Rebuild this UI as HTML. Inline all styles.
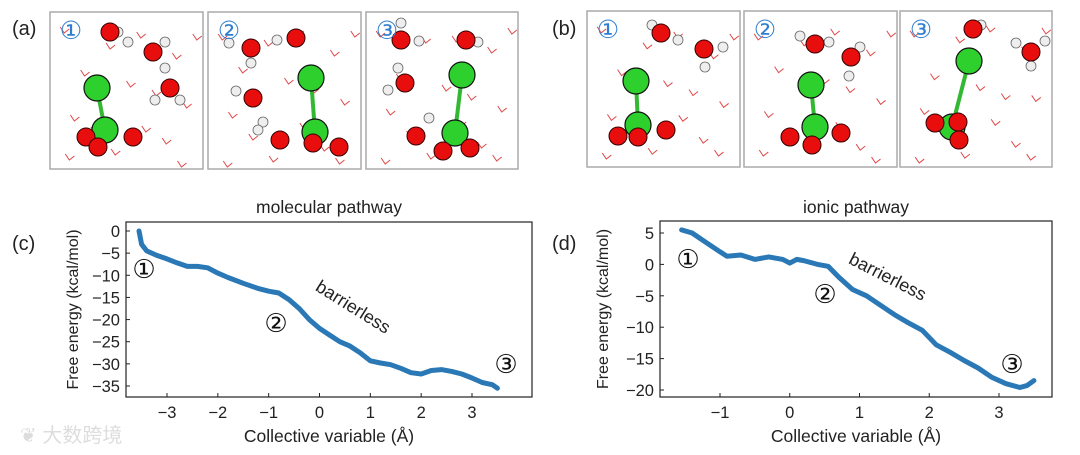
<!DOCTYPE html>
<html><head><meta charset="utf-8">
<style>
html,body{margin:0;padding:0;background:#fff;}
svg{display:block;font-family:"Liberation Sans","DejaVu Sans",sans-serif;}
</style></head>
<body>
<svg id="fig" width="1080" height="455" viewBox="0 0 1080 455" xmlns="http://www.w3.org/2000/svg">
<g id="topg"></g>
<g id="charts"></g>
<text x="20" y="442" font-size="20" fill="#ddd" font-family="'Liberation Sans','Noto Sans CJK SC',sans-serif">❦ 大数跨境</text>
</svg>
<script>
// ---- chart data ----
const molX = [-3.55,-3.5,-3.4,-3.2,-3.0,-2.8,-2.6,-2.4,-2.2,-2.0,-1.8,-1.5,-1.2,-1.0,-0.8,-0.6,-0.4,-0.2,0,0.2,0.4,0.6,0.8,1.0,1.2,1.4,1.6,1.8,2.0,2.2,2.4,2.6,2.8,3.0,3.2,3.4,3.5];
const molY = [0,-3,-4.5,-5.5,-6.3,-7.2,-8,-8,-8.3,-9.5,-10.5,-11.8,-13,-13.6,-14,-15.5,-17.5,-20,-22,-23.5,-25,-26,-27.5,-29.3,-29.8,-30.2,-31,-32,-32.3,-31.5,-31.3,-31.7,-32.3,-33.2,-34.2,-34.7,-35.5];
const molXTicks = [-3,-2,-1,0,1,2,3];
const molYTicks = [0,-5,-10,-15,-20,-25,-30,-35];
const ionX = [-1.55,-1.4,-1.2,-1.0,-0.9,-0.7,-0.5,-0.3,-0.1,0,0.1,0.2,0.4,0.55,0.7,0.9,1.1,1.3,1.5,1.7,1.9,2.1,2.3,2.5,2.7,2.9,3.1,3.3,3.4,3.5];
const ionY = [5.5,5,3.5,2,1.3,1.5,0.8,1.2,0.8,0.2,0.8,0.6,0,-0.3,-2,-4,-5,-6.5,-8,-9.3,-10.5,-12.8,-14,-15.3,-16.5,-18,-19,-19.6,-19.3,-18.5];
const ionXTicks = [-1,0,1,2,3];
const ionYTicks = [5,0,-5,-10,-15,-20];

const NS="http://www.w3.org/2000/svg";
function mk(tag,attrs,parent,text){const e=document.createElementNS(NS,tag);for(const k in attrs)e.setAttribute(k,attrs[k]);if(text!==undefined)e.textContent=text;parent.appendChild(e);return e;}
const charts=document.getElementById('charts');

function drawChart(cfg){
  const g=mk('g',{},charts);
  
  
  const sx=v=>cfg.x0px+(v-cfg.x0)*(cfg.x1px-cfg.x0px)/(cfg.x1-cfg.x0);
  const sy=v=>cfg.y0px+(v-cfg.y0)*(cfg.y1px-cfg.y0px)/(cfg.y1-cfg.y0);
  const f=cfg.frame;
  const fr=mk('rect',{x:f[0],y:f[1],width:f[2]-f[0],height:f[3]-f[1],fill:'none',stroke:'#222','stroke-width':1.2},g);
  
  
  cfg.xt.forEach(t=>{
    const X=sx(t);
    mk('line',{x1:X,x2:X,y1:f[3],y2:f[3]-4,stroke:'#222','stroke-width':1},g);
    const tl=mk('text',{x:X,y:f[3]+21,'font-size':16.5,'text-anchor':'middle',fill:'#222'},g,t<0?'\u2212'+Math.abs(t):String(t));
    
    
  });
  cfg.yt.forEach(t=>{
    const Y=sy(t);
    mk('line',{x1:f[0],x2:f[0]+4,y1:Y,y2:Y,stroke:'#222','stroke-width':1},g);
    const tl=mk('text',{x:f[0]-6,y:Y+6,'font-size':16.5,'text-anchor':'end',fill:'#222'},g,t<0?'\u2212'+Math.abs(t):String(t));
    
    
  });
  let d='';
  cfg.xs.forEach((v,i)=>{d+=(i?'L':'M')+sx(v).toFixed(1)+','+sy(cfg.ys[i]).toFixed(1);});
  const p=mk('path',{d:d,fill:'none',stroke:'#2a78b5','stroke-width':5,'stroke-linejoin':'round','stroke-linecap':'round'},g);
  
  
  const cx=(f[0]+f[2])/2;
  const tt=mk('text',{x:cx,y:213,'font-size':17.5,'text-anchor':'middle',fill:'#222'},g,cfg.title);
  
  
  const xl=mk('text',{x:cx,y:442,'font-size':17.5,'text-anchor':'middle',fill:'#222'},g,'Collective variable (Å)');
  
  
  const yl=mk('text',{x:0,y:0,'font-size':16,'text-anchor':'middle',fill:'#222',transform:`translate(${cfg.ylx},${(f[1]+f[3])/2}) rotate(-90)`},g,'Free energy (kcal/mol)');
  
  
  const pl=mk('text',{x:cfg.plx,y:250,'font-size':20,fill:'#222'},g,cfg.panel);
  
  
  cfg.marks.forEach(m=>{
    const t=mk('text',{x:m[0],y:m[1],'font-size':26,'text-anchor':'middle',fill:'#111'},g,m[2]);
    
    
  });
  const b=mk('text',{x:0,y:0,'font-size':18,'text-anchor':'middle',fill:'#222',transform:`translate(${cfg.bl[0]},${cfg.bl[1]}) rotate(${cfg.bl[2]})`},g,'barrierless');
  
  
}
drawChart({name:'molecular-pathway-chart',title:'molecular pathway',panel:'(c)',plx:12,ylx:78,
  frame:[126,222,532,397],x0:-3,x1:3,x0px:167,x1px:472,y0:0,y1:-35,y0px:231,y1px:386,
  xs:molX,ys:molY,xt:molXTicks,yt:molYTicks,
  marks:[[144,278,'①'],[276,332,'②'],[506,373,'③']],bl:[350,312,32]});
drawChart({name:'ionic-pathway-chart',title:'ionic pathway',panel:'(d)',plx:552,ylx:608,
  frame:[660,221,1052,397],x0:-1,x1:3,x0px:720,x1px:999,y0:5,y1:-20,y0px:233,y1px:390,
  xs:ionX,ys:ionY,xt:ionXTicks,yt:ionYTicks,
  marks:[[688,268,'①'],[825,303,'②'],[1012,373,'③']],bl:[885,282,27]});

// ---- snapshot panels ----
const topG=document.getElementById('topg');
const boxes=[
 {x:50,y:12,w:153,h:157,n:'①',cl:[[97,88],[105,130]],o:[[86,137],[133,137],[98,147],[110,32],[153,52],[170,88]],hy:[[118,32],[128,42],[165,42],[165,68],[155,100],[180,100]]},
 {x:208,y:12,w:153,h:157,n:'②',cl:[[311,78],[315,132]],o:[[251,48],[296,38],[253,98],[280,140],[313,143],[339,147]],hy:[[229,43],[277,40],[251,63],[236,91],[263,122],[258,130]]},
 {x:366,y:12,w:152,h:157,n:'③',cl:[[462,75],[455,133]],o:[[401,40],[405,83],[466,40],[416,136],[443,151],[470,148]],hy:[[401,23],[419,41],[398,68],[388,90],[429,118],[478,42]]},
 {x:587,y:11,w:153,h:156,n:'①',cl:[[636,81],[638,125]],o:[[618,136],[638,137],[666,130],[661,33],[704,49]],hy:[[652,25],[678,40],[723,47],[705,67]]},
 {x:744,y:11,w:153,h:156,n:'②',cl:[[811,85],[815,127]],o:[[790,137],[812,145],[841,133],[815,44],[851,57]],hy:[[800,36],[829,42],[860,47],[849,76]]},
 {x:900,y:11,w:152,h:156,n:'③',cl:[[969,61],[952,127]],o:[[973,29],[1031,52],[935,123],[959,140],[958,122]],hy:[[981,25],[1016,43],[1045,41],[1031,66]]}
];
const strokes=[[10,20],[30,60],[120,40],[90,110],[60,140],[130,90],[20,100],[110,130],[75,70],[140,20],[40,120],[100,80],[55,30],[125,145],[15,145],[85,20]];
boxes.forEach((b,i)=>{
  const g=mk('g',{},topG);
  
  
  strokes.forEach((s,j)=>{
    const x=b.x+s[0]*(b.w/150),y=b.y+s[1]*(b.h/157)+((i*7+j*3)%10)-5;
    mk('polyline',{points:`${x},${y} ${x+4},${y+6} ${x+9},${y+2}`,fill:'none',stroke:'#e04848','stroke-width':1},g);
  });
  mk('line',{x1:b.cl[0][0],y1:b.cl[0][1],x2:b.cl[1][0],y2:b.cl[1][1],stroke:'#33b833','stroke-width':4},g);
  b.hy.forEach(p=>mk('circle',{cx:p[0],cy:p[1],r:5,fill:'#eee',stroke:'#666','stroke-width':0.8},g));
  b.cl.forEach(p=>mk('circle',{cx:p[0],cy:p[1],r:13,fill:'#2ed02e',stroke:'#111','stroke-width':1.2},g));
  b.o.forEach(p=>mk('circle',{cx:p[0],cy:p[1],r:9,fill:'#e80e0e',stroke:'#300','stroke-width':1},g));
  mk('rect',{x:b.x,y:b.y,width:b.w,height:b.h,fill:'none',stroke:'#aaa','stroke-width':1.5},g);
  const t=mk('text',{x:b.x+21,y:b.y+27,'font-size':25,'text-anchor':'middle',fill:'#2f7fd0'},g,b.n);
  
  
});
const la=mk('text',{x:12,y:35,'font-size':20,fill:'#222'},topG,'(a)');


const lb=mk('text',{x:552,y:35,'font-size':20,fill:'#222'},topG,'(b)');


</script>
</body></html>
